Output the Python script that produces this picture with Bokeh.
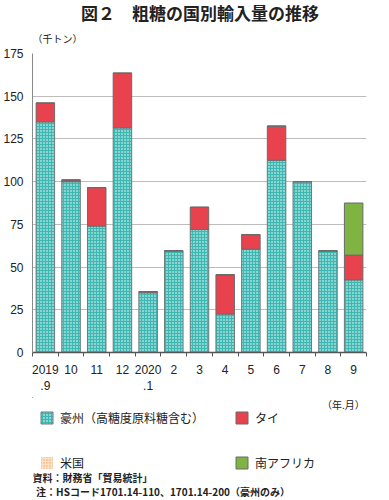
from bokeh.plotting import figure
from bokeh.layouts import column
from bokeh.models import (ColumnDataSource, FixedTicker, Legend, LegendItem)
from bokeh.core.properties import value
from bokeh.embed import file_html
from bokeh.resources import INLINE

# ---- data (thousand tonnes) ----
months = ["2019\n.9", "10", "11", "12", "2020\n.1", "2", "3", "4", "5", "6", "7", "8", "9"]
australia = [135, 100, 74, 131.5, 35, 59.5, 72, 22.5, 60.5, 112.5, 100, 59.5, 42.5]
thailand = [11, 1, 22.5, 32, 0.7, 0, 13, 23, 8.5, 20, 0, 0, 14.5]
usa = [0, 0, 0, 0, 0, 0, 0, 0, 0, 0, 0, 0, 0]
south_africa = [0, 0, 0, 0, 0, 0, 0, 0, 0, 0, 0, 0, 30.5]
series_names = ["豪州（高糖度原料糖含む）", "タイ", "米国", "南アフリカ"]
y_ticks = [0, 25, 50, 75, 100, 125, 150, 175]

xs = list(range(1, len(months) + 1))
b1 = [0] * len(xs)
t1 = [a for a in australia]
t2 = [a + b for a, b in zip(t1, thailand)]
t3 = [a + b for a, b in zip(t2, usa)]
t4 = [a + b for a, b in zip(t3, south_africa)]
src = ColumnDataSource(dict(x=xs, b1=b1, t1=t1, t2=t2, t3=t3, t4=t4))

JP = "Noto Sans CJK JP"
NUM = "Liberation Sans"
TXT = "#222222"
W = 373

STYLES = [
    dict(fill_color="#3cb7b2", hatch_pattern="dot", hatch_color="white",
         hatch_scale=3, hatch_weight=1.2, line_color="#6a7a7a", line_width=1),
    dict(fill_color="#e8424f", line_color="#6a6a6a", line_width=1),
    dict(fill_color="#fbe0c4", hatch_pattern="dot", hatch_color="#f0ad72",
         hatch_scale=3, line_color=None),
    dict(fill_color="#7fb443", line_color="#6a6a6a", line_width=1),
]


def blank(height):
    f = figure(width=W, height=height, x_range=(0, W), y_range=(height, 0),
               output_backend="svg", toolbar_location=None,
               min_border=0, min_border_left=0, min_border_right=0,
               min_border_top=0, min_border_bottom=0)
    f.axis.visible = False
    f.grid.visible = False
    f.outline_line_color = None
    return f


def txt(f, text, x, y, size="10px", style="normal", align="left"):
    f.text(x=[x], y=[y], text=[text], text_font=value(JP), text_font_size=size,
           text_font_style=style, text_align=align, text_baseline="middle",
           text_color=TXT)


# ---- top: title ----
top = blank(45)
txt(top, "図２　粗糖の国別輸入量の推移", 187, 12, size="17px", style="bold", align="center")
txt(top, "（千トン）", 0, 38)

# ---- main chart ----
p = figure(width=W, height=352, x_range=(0.5, 13.5), y_range=(0, 175),
           output_backend="svg", toolbar_location=None,
           min_border_left=27, min_border_right=7, min_border_top=8, min_border_bottom=45)
p.outline_line_color = None

w = 0.72
p.vbar(x="x", bottom="b1", top="t1", width=w, source=src, **STYLES[0])
p.vbar(x="x", bottom="t1", top="t2", width=w, source=src, **STYLES[1])
p.vbar(x="x", bottom="t2", top="t3", width=w, source=src, **STYLES[2])
p.vbar(x="x", bottom="t3", top="t4", width=w, source=src, **STYLES[3])

p.xgrid.grid_line_color = None
p.ygrid.grid_line_color = "#bdbdbd"
p.ygrid.grid_line_width = 1.2
p.ygrid.ticker = FixedTicker(ticks=y_ticks[1:])

p.yaxis.ticker = FixedTicker(ticks=y_ticks)
p.yaxis.axis_line_color = "#8a8a8a"
p.yaxis.major_tick_out = 0
p.yaxis.major_tick_in = 0
p.yaxis.minor_tick_out = 0
p.yaxis.major_label_standoff = 9
p.yaxis.major_label_text_font = NUM
p.yaxis.major_label_text_font_size = "12px"
p.yaxis.major_label_text_color = TXT

p.xaxis.ticker = FixedTicker(ticks=xs, minor_ticks=[x + 0.5 for x in range(0, len(xs) + 1)])
p.xaxis.major_label_overrides = {x: m for x, m in zip(xs, months)}
p.xaxis.axis_line_color = "#555555"
p.xaxis.axis_line_width = 1.5
p.xaxis.major_tick_out = 0
p.xaxis.major_tick_in = 0
p.xaxis.minor_tick_out = 4
p.xaxis.minor_tick_in = 0
p.xaxis.minor_tick_line_color = "#555555"
p.xaxis.major_label_standoff = 6
p.xaxis.major_label_text_font = NUM
p.xaxis.major_label_text_font_size = "12px"
p.xaxis.major_label_text_color = TXT

# ---- bottom: unit, legend, notes ----
BH = 101
bot = blank(BH)
txt(bot, "（年.月）", 371, 7, align="right")
items = []
for name, st in zip(series_names, STYLES):
    # off-canvas proxy renderer, only used for the legend swatch
    r = bot.vbar(x=[-1000], top=[0], width=1, **st)
    items.append(LegendItem(label=name, renderers=[r]))
legend = Legend(items=items, ncols=2, orientation="horizontal", location=(7, 27),
                label_text_font=JP, label_text_font_size="12px", label_text_color=TXT,
                glyph_width=15, glyph_height=15, label_standoff=6, label_height=18,
                label_width=147, spacing=27, padding=7, margin=0,
                border_line_color=None, background_fill_alpha=0)
bot.add_layout(legend, "center")
txt(bot, "資料：財務省「貿易統計」", 0, 80, style="bold")
txt(bot, "注：HSコード1701.14-110、1701.14-200（豪州のみ）", 4, 94, style="bold")

layout = column(top, p, bot, spacing=0)
open("out.html", "w").write(file_html(layout, INLINE))
